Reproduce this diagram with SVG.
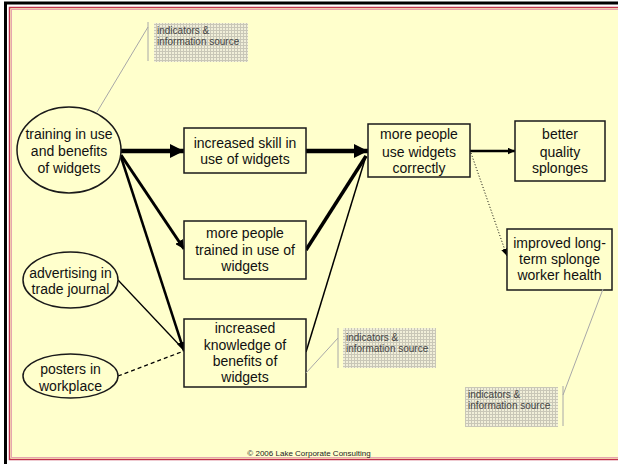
<svg xmlns="http://www.w3.org/2000/svg" width="618" height="464" viewBox="0 0 618 464">
<defs>
<style>
.node{fill:#ffffcc;stroke:#1a1a1a;stroke-width:1.5}
.lbl{font-family:"Liberation Sans",Arial,sans-serif;font-size:14px;fill:#111;text-anchor:middle}
.ind{font-family:"Liberation Sans",Arial,sans-serif;font-size:10px;fill:#444}
.indbox{fill:url(#grid)}
.indline{stroke:#a8a8a8;stroke-width:1;fill:none}
.c{stroke:#000;fill:none}
</style>
<pattern id="grid" width="3" height="3" patternUnits="userSpaceOnUse">
<rect width="3" height="3" fill="#f1efd9"/>
<path d="M0,0.5H3M0.5,0V3" stroke="#c9c7b7" stroke-width="1"/>
</pattern>
<marker id="big" markerUnits="userSpaceOnUse" markerWidth="15" markerHeight="14" refX="14" refY="7" orient="auto"><path d="M0,0L14,7L0,14z" fill="#000"/></marker>
<marker id="med" markerUnits="userSpaceOnUse" markerWidth="10" markerHeight="9" refX="9" refY="4.5" orient="auto"><path d="M0,0L9,4.5L0,9z" fill="#000"/></marker>
<marker id="sml" markerUnits="userSpaceOnUse" markerWidth="8" markerHeight="7" refX="7.5" refY="3.5" orient="auto"><path d="M0,0L7.5,3.5L0,7z" fill="#000"/></marker>
</defs>
<rect width="618" height="464" fill="#ffffff"/>
<rect x="9" y="7" width="612" height="453" fill="#ffffcc"/>
<path d="M5.5,464V3H618" fill="none" stroke="#000" stroke-width="3"/>
<rect x="9.5" y="7.5" width="620" height="452" fill="none" stroke="#c0304a" stroke-width="1.5"/>
<rect x="11.5" y="9.5" width="620" height="448" fill="none" stroke="#e6a6ae" stroke-width="1"/>

<g id="connectors">
<path class="c" d="M121,151H184" stroke-width="4.5" marker-end="url(#big)"/>
<path class="c" d="M306,151H368" stroke-width="4.5" marker-end="url(#big)"/>
<path class="c" d="M121,155L184,249" stroke-width="3" marker-end="url(#med)"/>
<path class="c" d="M121,157L184,351" stroke-width="2.5" marker-end="url(#med)"/>
<path class="c" d="M118,280L184,350" stroke-width="1.3"/>
<path class="c" d="M118,376L184,351" stroke-width="1.3" stroke-dasharray="4,3"/>
<path class="c" d="M306,250L366,156" stroke-width="3.5"/>
<path class="c" d="M306,352L366,156" stroke-width="1.5"/>
<path class="c" d="M470,151H515" stroke-width="2.5" marker-end="url(#sml)"/>
<path class="c" d="M471,153L507,256" stroke-width="1" stroke-dasharray="1,2" marker-end="url(#sml)"/>
</g>

<g id="n-training"><ellipse class="node" cx="69" cy="150" rx="52" ry="43"/>
<text class="lbl" x="69" y="139">training in use</text><text class="lbl" x="69" y="156">and benefits</text><text class="lbl" x="69" y="173">of widgets</text></g>
<g id="n-advertising"><ellipse class="node" cx="70.5" cy="280" rx="47.5" ry="28"/>
<text class="lbl" x="70.5" y="278">advertising in</text><text class="lbl" x="70.5" y="294">trade journal</text></g>
<g id="n-posters"><ellipse class="node" cx="70.5" cy="376" rx="47.5" ry="22"/>
<text class="lbl" x="70.5" y="374">posters in</text><text class="lbl" x="70.5" y="391">workplace</text></g>
<g id="n-skill"><rect class="node" x="184" y="128" width="122" height="45"/>
<text class="lbl" x="245" y="148">increased skill in</text><text class="lbl" x="245" y="164">use of widgets</text></g>
<g id="n-trained"><rect class="node" x="184" y="221" width="122" height="58"/>
<text class="lbl" x="245" y="238">more people</text><text class="lbl" x="245" y="255">trained in use of</text><text class="lbl" x="245" y="271">widgets</text></g>
<g id="n-knowledge"><rect class="node" x="184" y="319" width="122" height="68"/>
<text class="lbl" x="245" y="333">increased</text><text class="lbl" x="245" y="350">knowledge of</text><text class="lbl" x="245" y="366">benefits of</text><text class="lbl" x="245" y="382">widgets</text></g>
<g id="n-use"><rect class="node" x="368" y="124" width="102" height="53"/>
<text class="lbl" x="419" y="139">more people</text><text class="lbl" x="419" y="157">use widgets</text><text class="lbl" x="419" y="173">correctly</text></g>
<g id="n-quality"><rect class="node" x="515" y="121" width="90" height="60"/>
<text class="lbl" x="560" y="139">better</text><text class="lbl" x="560" y="157">quality</text><text class="lbl" x="560" y="173">splonges</text></g>
<g id="n-health"><rect class="node" x="507" y="229" width="105" height="61"/>
<text class="lbl" x="559.5" y="248">improved long-</text><text class="lbl" x="559.5" y="264">term splonge</text><text class="lbl" x="559.5" y="280">worker health</text></g>

<g id="ind-top"><rect class="indbox" x="154" y="23" width="94" height="39"/>
<path class="indline" d="M148,22V61M148,27L97,112"/>
<text class="ind" x="157" y="34">indicators &amp;</text><text class="ind" x="157" y="45">information source</text></g>
<g id="ind-mid"><rect class="indbox" x="343" y="328" width="93" height="40"/>
<path class="indline" d="M338,328V368M338,338L306,373"/>
<text class="ind" x="346" y="341">indicators &amp;</text><text class="ind" x="346" y="352">information source</text></g>
<g id="ind-bot"><rect class="indbox" x="465" y="387" width="93" height="40"/>
<path class="indline" d="M563,386V426M563,395L603,289"/>
<text class="ind" x="468" y="398">indicators &amp;</text><text class="ind" x="468" y="409">information source</text></g>

<text x="309" y="456" font-family="'Liberation Sans',Arial,sans-serif" font-size="8" fill="#222" text-anchor="middle">© 2006 Lake Corporate Consulting</text>
</svg>
